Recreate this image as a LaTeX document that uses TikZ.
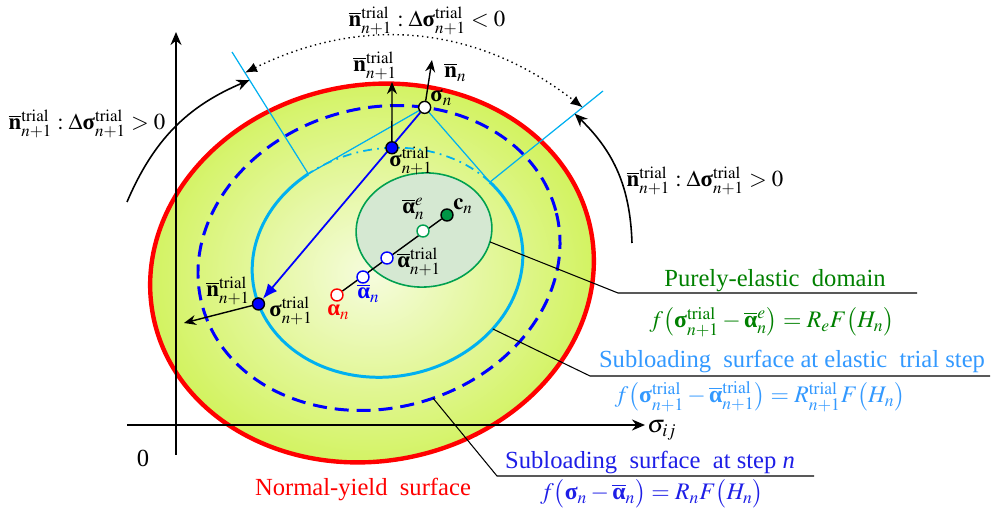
\documentclass[tikz,border=0pt]{standalone}
\usepackage{amsmath}
\usepackage{mathptmx}
\usepackage{fontspec}
\setmainfont{Liberation Serif}
\usetikzlibrary{positioning, arrows.meta, calc}

\definecolor{yieldred}{RGB}{255,0,0}
\definecolor{yieldin}{RGB}{246,252,222}
\definecolor{yieldout}{RGB}{208,242,88}
\definecolor{subblue}{RGB}{0,0,255}
\definecolor{trialcyan}{RGB}{0,176,240}
\definecolor{elline}{RGB}{0,160,80}
\definecolor{elfill}{RGB}{213,232,210}
\definecolor{cgreen}{RGB}{0,150,70}
\definecolor{txtgreen}{RGB}{0,128,0}
\definecolor{txtcyan}{RGB}{51,153,255}
\definecolor{txtblue}{RGB}{30,30,230}

\pgfdeclarelayer{front}
\pgfsetlayers{main,front}

\newcommand{\bsig}{\text{\bfseries σ}}
\newcommand{\balp}{\text{\bfseries α}}
\newcommand{\bbalp}{\overline{\balp}}
\newcommand{\bnor}{\overline{\mathbf{n}}}
\newcommand{\tr}{\mathrm{trial}}
\newcommand{\np}{n+1}

\begin{document}
\begin{tikzpicture}[x=0.02cm, y=0.02cm,
    every node/.style={font=\fontsize{14}{16}\selectfont},
    mfont/.style={font=\fontsize{13}{15}\selectfont},
    ffont/.style={font=\fontsize{13.5}{15}\selectfont},
    pt/.style={circle, draw, line width=0.8pt, minimum size=0.24cm, inner sep=0pt},
    lab/.style={anchor=base west, inner sep=0pt, mfont},
    title/.style={anchor=base, inner sep=0pt},
    vec/.style={-{Stealth[length=2.4mm, width=2mm]}, line width=0.8pt},
    swing/.style={-{Stealth[length=2.6mm, width=2.2mm]}, line width=0.9pt},
    axis/.style={-{Stealth[length=2.6mm, width=2.2mm]}, line width=1.4pt},
    thincyan/.style={trialcyan, line width=0.7pt},
    leader/.style={line width=0.6pt}
]
\useasboundingbox (0,0) rectangle (991,514);

% normal-yield surface
\coordinate (ny) at (372,241);
\shade[inner color=yieldin, outer color=yieldout, rotate around={11:(ny)}] (ny) ellipse [x radius=223, y radius=188];
\draw[yieldred, line width=2.5pt, rotate around={11:(ny)}] (ny) ellipse [x radius=223, y radius=188];

% axes
\draw[axis] (176,59) -- (176,482);
\draw[axis] (127,89) -- (645,89);
\node (sij) at (662,84) {$\sigma_{ij}$};
\node (zero) at (143,56) {0};

% subloading surface at step n
\begin{scope}[shift={(379,256)}, rotate=15]
  \draw[subblue, line width=1.7pt, dash pattern=on 8pt off 4.5pt] (0,0) ellipse [x radius=183, y radius=150];
  \coordinate (snpos) at (63:183 and 150);
  \coordinate (subleg) at (-85:183 and 150);
\end{scope}

% purely-elastic domain
\begin{scope}[shift={(424,284)}, rotate=5]
  \filldraw[fill=elfill, draw=elline, line width=0.9pt] (0,0) ellipse [x radius=68, y radius=57];
  \coordinate (grleg) at (-18:68 and 57);
\end{scope}

% subloading surface at elastic trial step
\begin{scope}[shift={(387.5,251.5)}, rotate=10.5]
  \draw[trialcyan, line width=1.7pt] (117:136 and 114) arc [start angle=117, end angle=392, x radius=136, y radius=114];
  \draw[trialcyan, line width=1pt, dash pattern=on 5pt off 3pt on 1pt off 3pt] (32:136 and 114) arc [start angle=32, end angle=117, x radius=136, y radius=114];
  \coordinate (T1) at (117:136 and 114);
  \coordinate (T2) at (32:136 and 114);
  \coordinate (stupos) at (79.3:136 and 114);
  \coordinate (stlpos) at (188.7:136 and 114);
  \coordinate (cyleg) at (-47.8:136 and 114);
\end{scope}

% points
\begin{pgfonlayer}{front}
\node[pt, fill=white] (sn) at (snpos) {};
\node[pt, fill=subblue] (stu) at (stupos) {};
\node[pt, fill=subblue] (stl) at (stlpos) {};
\node[pt, fill=cgreen] (cn) at (447,299) {};
\node[pt, draw=elline, fill=white] (ae) at (423,283) {};
\node[pt, draw=subblue, fill=white] (at) at (387,256) {};
\node[pt, draw=subblue, fill=white] (abn) at (363,237) {};
\node[pt, draw=yieldred, fill=white] (an) at (337,219) {};
\end{pgfonlayer}

% tangent and normal lines
\coordinate (N1) at (232,462);
\coordinate (N2) at (603,423);
\draw[thincyan] (T1) -- (sn) -- (T2);
\draw[thincyan] (T1) -- (N1);
\draw[thincyan] (T2) -- (N2);

% stress path and back stresses
\draw[subblue, line width=1pt, -{Latex[length=3mm, width=2.4mm]}] (sn) -- (stl);
\draw[line width=0.8pt] (an) -- (cn);

% normals
\coordinate (nnend) at (432,454);
\coordinate (ntuend) at (392,432);
\coordinate (ntlend) at (184,191);
\draw[vec] (sn) -- (nnend);
\draw[vec] (stu) -- (ntuend);
\draw[vec] (stl) -- (ntlend);

% swing arrows
\coordinate (DL) at ($(T1)!0.83!(N1)$);
\coordinate (DR) at ($(T2)!0.82!(N2)$);
\coordinate (SL) at ($(T1)!0.77!(N1)$);
\coordinate (SR) at ($(T2)!0.75!(N2)$);
\coordinate (lstart) at (127,312);
\coordinate (rstart) at (632,271);
\draw[dotted, line width=0.8pt, {Latex[length=2.4mm, width=2mm]}-{Latex[length=2.4mm, width=2mm]}] (DL) to[bend left=32] (DR);
\draw[swing] (lstart) to[bend left=22] (SL);
\draw[swing] (rstart) to[bend right=22] (SR);

% point labels
\node[lab] (snlab) at (430,412) {$\bsig_{n}$};
\node[lab] (stulab) at (389,347) {$\bsig^{\tr}_{\np}$};
\node[lab] (stllab) at (269,197) {$\bsig^{\tr}_{\np}$};
\node[lab] (nnlab) at (444,436) {$\bnor_{n}$};
\node[lab] (ntulab) at (353,442) {$\bnor^{\tr}_{\np}$};
\node[lab] (ntllab) at (206,217) {$\bnor^{\tr}_{\np}$};
\node[lab] (cnlab) at (453,304) {$\mathbf{c}_{n}$};
\node[lab] (aelab) at (402,300) {$\bbalp^{e}_{n}$};
\node[lab] (atlab) at (397,246) {$\bbalp^{\tr}_{\np}$};
\node[lab, text=subblue] (abnlab) at (357,215) {$\bbalp_{n}$};
\node[lab, text=yieldred] (anlab) at (327,198) {$\balp_{n}$};

% swing labels
\node[title, mfont] (toplab) at (427,487) {$\bnor^{\tr}_{\np}:\Delta\bsig^{\tr}_{\np}<0$};
\node[title, mfont] (leftlab) at (87,384) {$\bnor^{\tr}_{\np}:\Delta\bsig^{\tr}_{\np}>0$};
\node[title, mfont] (rightlab) at (705,327) {$\bnor^{\tr}_{\np}:\Delta\bsig^{\tr}_{\np}>0$};

% surface names
\node[title, text=txtgreen] (petitle) at (775,227) {Purely-elastic\ \ domain};
\node[title, ffont, text=txtgreen] (peform) at (772,186) {$f\bigl(\bsig^{\tr}_{\np}-\bbalp^{e}_{n}\bigr)=R_{e}F\bigl(H_{n}\bigr)$};
\node[title, text=txtcyan] (cytitle) at (792,146) {Subloading\ \ surface at elastic\ \ trial step};
\node[title, ffont, text=txtcyan] (cyform) at (760,111) {$f\bigl(\bsig^{\tr}_{\np}-\bbalp^{\tr}_{\np}\bigr)=R^{\tr}_{\np}F\bigl(H_{n}\bigr)$};
\node[title, text=txtblue] (sbtitle) at (650,45) {Subloading\ \ surface\ \ at step \textit{n}};
\node[title, ffont, text=txtblue] (sbform) at (652,14) {$f\bigl(\bsig_{n}-\bbalp_{n}\bigr)=R_{n}F\bigl(H_{n}\bigr)$};
\node[title, text=yieldred] (nytitle) at (363,18) {Normal-yield\ \ surface};

% leaders
\draw[leader] (grleg) -- (618,221) -- (917,221);
\draw[leader] (cyleg) -- (590,138) -- (990,138);
\draw[leader] (subleg) -- (497,38) -- (814,38);
\end{tikzpicture}
\end{document}
